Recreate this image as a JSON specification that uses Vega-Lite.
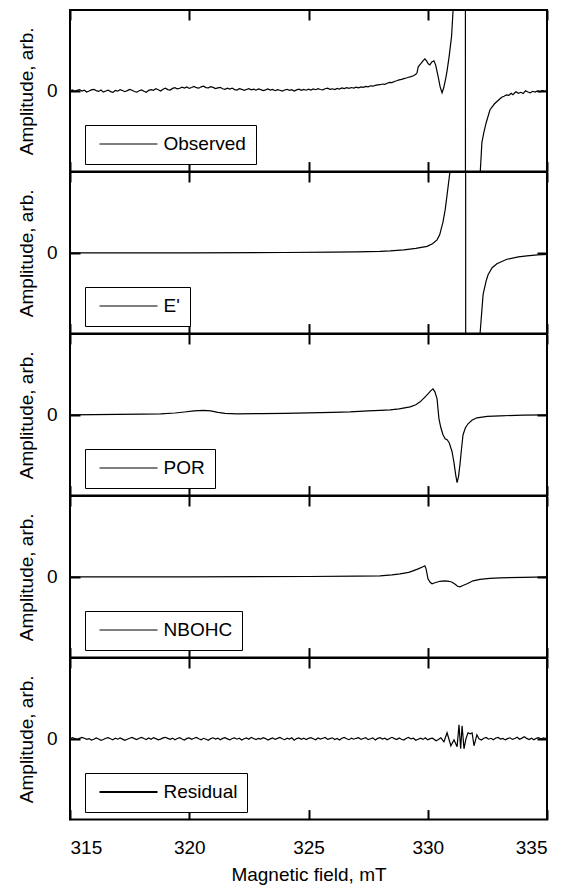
{
  "$schema": "https://vega.github.io/schema/vega-lite/v6.json",
  "padding": {"left": 16, "top": 8, "right": 15, "bottom": 5},
  "spacing": 0,
  "bounds": "flush",
  "datasets": {
    "observed": [
      {"B":315.0,"A":0},{"B":315.1,"A":0.8},{"B":315.2,"A":-0.5},{"B":315.3,"A":0.5},{"B":315.4,"A":1.2},{"B":315.5,"A":-0.3},{"B":315.6,"A":0.6},{"B":315.7,"A":-1.2},{"B":315.8,"A":-0.2},{"B":315.9,"A":0.9},
      {"B":316.0,"A":1.5},{"B":316.1,"A":0.2},{"B":316.2,"A":-0.6},{"B":316.3,"A":0.8},{"B":316.4,"A":-1.3},{"B":316.5,"A":-0.2},{"B":316.6,"A":0.7},{"B":316.7,"A":-0.8},{"B":316.8,"A":-1.6},{"B":316.9,"A":0.3},
      {"B":317.0,"A":-0.4},{"B":317.1,"A":1.1},{"B":317.2,"A":0.3},{"B":317.3,"A":-0.9},{"B":317.4,"A":0.2},{"B":317.5,"A":1.4},{"B":317.6,"A":0.6},{"B":317.7,"A":-0.7},{"B":317.8,"A":-1.4},{"B":317.9,"A":0.1},
      {"B":318.0,"A":0.9},{"B":318.1,"A":-0.5},{"B":318.2,"A":-1.5},{"B":318.3,"A":0.4},{"B":318.4,"A":1.2},{"B":318.5,"A":0.5},{"B":318.6,"A":2.2},{"B":318.7,"A":1.0},{"B":318.8,"A":-0.2},{"B":318.9,"A":1.6},
      {"B":319.0,"A":2.6},{"B":319.1,"A":1.2},{"B":319.2,"A":0.8},{"B":319.3,"A":2.4},{"B":319.4,"A":3.2},{"B":319.5,"A":1.9},{"B":319.6,"A":2.5},{"B":319.7,"A":3.6},{"B":319.8,"A":2.8},{"B":319.9,"A":3.9},
      {"B":320.0,"A":2.4},{"B":320.1,"A":3.3},{"B":320.2,"A":4.3},{"B":320.3,"A":3.1},{"B":320.4,"A":2.6},{"B":320.5,"A":4.0},{"B":320.6,"A":4.6},{"B":320.7,"A":3.2},{"B":320.8,"A":3.0},{"B":320.9,"A":4.1},
      {"B":321.0,"A":3.4},{"B":321.1,"A":2.2},{"B":321.2,"A":2.9},{"B":321.3,"A":3.5},{"B":321.4,"A":2.0},{"B":321.5,"A":1.4},{"B":321.6,"A":2.6},{"B":321.7,"A":1.8},{"B":321.8,"A":2.7},{"B":321.9,"A":1.2},
      {"B":322.0,"A":0.8},{"B":322.1,"A":2.1},{"B":322.2,"A":1.5},{"B":322.3,"A":0.4},{"B":322.4,"A":1.3},{"B":322.5,"A":2.2},{"B":322.6,"A":1.0},{"B":322.7,"A":1.7},{"B":322.8,"A":0.6},{"B":322.9,"A":1.9},
      {"B":323.0,"A":1.2},{"B":323.1,"A":0.2},{"B":323.2,"A":0.9},{"B":323.3,"A":1.8},{"B":323.4,"A":0.7},{"B":323.5,"A":1.4},{"B":323.6,"A":0.1},{"B":323.7,"A":1.2},{"B":323.8,"A":0.6},{"B":323.9,"A":-0.3},
      {"B":324.0,"A":0.8},{"B":324.1,"A":1.5},{"B":324.2,"A":0.4},{"B":324.3,"A":1.1},{"B":324.4,"A":-0.2},{"B":324.5,"A":0.9},{"B":324.6,"A":1.7},{"B":324.7,"A":0.5},{"B":324.8,"A":1.3},{"B":324.9,"A":0.6},
      {"B":325.0,"A":1.6},{"B":325.1,"A":0.7},{"B":325.2,"A":1.9},{"B":325.3,"A":1.1},{"B":325.4,"A":2.2},{"B":325.5,"A":1.3},{"B":325.6,"A":0.9},{"B":325.7,"A":2.1},{"B":325.8,"A":2.6},{"B":325.9,"A":1.5},
      {"B":326.0,"A":2.0},{"B":326.1,"A":1.2},{"B":326.2,"A":2.4},{"B":326.3,"A":1.8},{"B":326.4,"A":2.9},{"B":326.5,"A":2.2},{"B":326.6,"A":3.1},{"B":326.7,"A":2.4},{"B":326.8,"A":3.3},{"B":326.9,"A":2.8},
      {"B":327.0,"A":3.6},{"B":327.1,"A":3.0},{"B":327.2,"A":3.9},{"B":327.3,"A":3.4},{"B":327.4,"A":4.4},{"B":327.5,"A":4.0},{"B":327.6,"A":5.0},{"B":327.7,"A":4.6},{"B":327.8,"A":5.4},{"B":327.9,"A":5.9},
      {"B":328.0,"A":6.1},{"B":328.1,"A":6.8},{"B":328.2,"A":6.5},{"B":328.3,"A":7.6},{"B":328.4,"A":8.5},{"B":328.5,"A":8.2},{"B":328.6,"A":9.3},{"B":328.7,"A":10.1},{"B":328.8,"A":11.0},{"B":328.9,"A":11.4},
      {"B":329.0,"A":12.2},{"B":329.1,"A":12.8},{"B":329.2,"A":13.6},{"B":329.3,"A":14.2},{"B":329.4,"A":15.1},{"B":329.5,"A":16.5},
      {"B":329.55,"A":18},{"B":329.6,"A":24},{"B":329.7,"A":27},{"B":329.8,"A":30},{"B":329.88,"A":32},{"B":329.95,"A":30},{"B":330.02,"A":27},{"B":330.09,"A":26},{"B":330.17,"A":29},{"B":330.26,"A":30},{"B":330.33,"A":26},{"B":330.43,"A":15},{"B":330.52,"A":4},{"B":330.6,"A":-2},{"B":330.67,"A":3},{"B":330.75,"A":12},{"B":330.81,"A":20},{"B":330.9,"A":35},{"B":331.0,"A":55},{"B":331.06,"A":80},{"B":331.15,"A":130},{"B":331.3,"A":250},{"B":331.45,"A":450},{"B":331.57,"A":700},{"B":331.59,"A":-700},{"B":331.75,"A":-450},{"B":331.95,"A":-250},{"B":332.1,"A":-140},{"B":332.2,"A":-82},{"B":332.27,"A":-52},{"B":332.35,"A":-42},{"B":332.45,"A":-32},{"B":332.61,"A":-19},{"B":332.8,"A":-13},
      {"B":333.03,"A":-8},{"B":333.1,"A":-6.5},{"B":333.2,"A":-5.5},{"B":333.3,"A":-4},{"B":333.4,"A":-4.5},{"B":333.5,"A":-2.5},{"B":333.57,"A":-4},{"B":333.65,"A":-2},{"B":333.7,"A":-1},{"B":333.8,"A":-2.5},{"B":333.9,"A":-1.5},{"B":334.0,"A":-2.8},{"B":334.1,"A":0},{"B":334.2,"A":-1.2},{"B":334.3,"A":-2},{"B":334.4,"A":-0.5},{"B":334.5,"A":-1.3},{"B":334.6,"A":-0.2},{"B":334.7,"A":-1},{"B":334.8,"A":0.3},{"B":334.9,"A":-0.6},{"B":335.0,"A":0}
    ],
    "eprime": [
      {"B":315,"A":0},{"B":320,"A":0},{"B":324,"A":0.3},{"B":326,"A":0.6},{"B":327,"A":1},{"B":328,"A":1.5},{"B":328.42,"A":2},{"B":329,"A":3},{"B":329.5,"A":4.5},{"B":329.97,"A":6.5},{"B":330.2,"A":9},{"B":330.39,"A":13},{"B":330.5,"A":18},{"B":330.64,"A":31},{"B":330.73,"A":43},{"B":330.81,"A":58},{"B":330.93,"A":81},{"B":331.1,"A":140},{"B":331.3,"A":280},{"B":331.45,"A":500},{"B":331.58,"A":700},{"B":331.6,"A":-700},{"B":331.7,"A":-500},{"B":331.85,"A":-300},{"B":332.0,"A":-170},{"B":332.1,"A":-115},{"B":332.19,"A":-82},{"B":332.32,"A":-42},{"B":332.45,"A":-28},{"B":332.53,"A":-22},{"B":332.7,"A":-15},{"B":332.9,"A":-11},{"B":333.32,"A":-6.5},{"B":333.8,"A":-4},{"B":334.16,"A":-3},{"B":334.6,"A":-2},{"B":335,"A":-1.5}
    ],
    "por": [
      {"B":315,"A":0},{"B":316,"A":0.2},{"B":317,"A":0.4},{"B":318,"A":0.6},{"B":318.8,"A":1},{"B":319.4,"A":1.8},{"B":319.8,"A":2.8},{"B":320.2,"A":4},{"B":320.6,"A":4.5},{"B":320.9,"A":4},{"B":321.2,"A":2.5},{"B":321.5,"A":1.5},{"B":322,"A":1},{"B":323,"A":1.2},{"B":324,"A":1.5},{"B":325,"A":2},{"B":326,"A":2.5},{"B":326.74,"A":3},{"B":327.5,"A":4},{"B":328,"A":4.5},{"B":328.42,"A":5},{"B":328.8,"A":6},{"B":329.26,"A":8},{"B":329.5,"A":10},{"B":329.68,"A":13},{"B":329.85,"A":17},{"B":330.01,"A":21},{"B":330.12,"A":24},{"B":330.22,"A":26},{"B":330.3,"A":23},{"B":330.39,"A":16},{"B":330.47,"A":-4},{"B":330.55,"A":-13},{"B":330.64,"A":-20},{"B":330.73,"A":-24},{"B":330.81,"A":-25},{"B":330.9,"A":-28},{"B":331.02,"A":-37},{"B":331.1,"A":-48},{"B":331.17,"A":-60},{"B":331.23,"A":-68},{"B":331.29,"A":-62},{"B":331.35,"A":-50},{"B":331.42,"A":-33},{"B":331.48,"A":-20},{"B":331.58,"A":-13},{"B":331.69,"A":-9},{"B":331.85,"A":-5.5},{"B":332.06,"A":-3},{"B":332.5,"A":-1.5},{"B":333.03,"A":-1},{"B":334,"A":-0.3},{"B":335,"A":0}
    ],
    "nbohc": [
      {"B":315,"A":0},{"B":320,"A":0},{"B":325,"A":0.3},{"B":327,"A":0.7},{"B":328,"A":1},{"B":328.5,"A":2},{"B":328.84,"A":3},{"B":329.2,"A":4.5},{"B":329.38,"A":6},{"B":329.6,"A":8},{"B":329.8,"A":10},{"B":329.88,"A":11},{"B":329.93,"A":8},{"B":329.97,"A":3},{"B":330.01,"A":-2},{"B":330.1,"A":-5.5},{"B":330.18,"A":-7},{"B":330.3,"A":-6},{"B":330.51,"A":-4.5},{"B":330.7,"A":-4},{"B":330.9,"A":-4.5},{"B":331.02,"A":-5.5},{"B":331.15,"A":-7.5},{"B":331.25,"A":-9.5},{"B":331.35,"A":-10},{"B":331.45,"A":-9},{"B":331.65,"A":-7},{"B":331.9,"A":-4},{"B":332.19,"A":-2.5},{"B":332.6,"A":-1.5},{"B":333.03,"A":-1},{"B":334,"A":-0.5},{"B":335,"A":0}
    ],
    "residual": [
      {"B":315.0,"A":0},{"B":315.1,"A":1.1},{"B":315.2,"A":0.3},{"B":315.3,"A":-0.8},{"B":315.4,"A":0.4},{"B":315.5,"A":1.4},{"B":315.6,"A":0.5},{"B":315.7,"A":-0.6},{"B":315.8,"A":0.2},{"B":315.9,"A":-1.3},
      {"B":316.0,"A":-0.5},{"B":316.1,"A":0.8},{"B":316.2,"A":-0.2},{"B":316.3,"A":-1.5},{"B":316.4,"A":-0.7},{"B":316.5,"A":0.6},{"B":316.6,"A":1.2},{"B":316.7,"A":0.1},{"B":316.8,"A":-0.9},{"B":316.9,"A":0.7},
      {"B":317.0,"A":-0.4},{"B":317.1,"A":0.9},{"B":317.2,"A":-0.3},{"B":317.3,"A":-1.6},{"B":317.4,"A":-0.5},{"B":317.5,"A":0.6},{"B":317.6,"A":1.3},{"B":317.7,"A":0.2},{"B":317.8,"A":-0.8},{"B":317.9,"A":0.5},
      {"B":318.0,"A":1.4},{"B":318.1,"A":0.3},{"B":318.2,"A":-0.7},{"B":318.3,"A":0.8},{"B":318.4,"A":-0.4},{"B":318.5,"A":1.2},{"B":318.6,"A":0.2},{"B":318.7,"A":-1.1},{"B":318.8,"A":-0.3},{"B":318.9,"A":0.9},
      {"B":319.0,"A":1.5},{"B":319.1,"A":0.4},{"B":319.2,"A":-0.6},{"B":319.3,"A":0.7},{"B":319.4,"A":-0.9},{"B":319.5,"A":0.3},{"B":319.6,"A":1.1},{"B":319.7,"A":-0.2},{"B":319.8,"A":-1.2},{"B":319.9,"A":0.4},
      {"B":320.0,"A":0.9},{"B":320.1,"A":-0.5},{"B":320.2,"A":0.6},{"B":320.3,"A":1.3},{"B":320.4,"A":0.1},{"B":320.5,"A":-1.0},{"B":320.6,"A":0.5},{"B":320.7,"A":-0.4},{"B":320.8,"A":-1.5},{"B":320.9,"A":0.2},
      {"B":321.0,"A":1.0},{"B":321.1,"A":-0.3},{"B":321.2,"A":0.7},{"B":321.3,"A":-0.9},{"B":321.4,"A":0.4},{"B":321.5,"A":1.2},{"B":321.6,"A":-0.1},{"B":321.7,"A":-1.1},{"B":321.8,"A":0.3},{"B":321.9,"A":1.0},
      {"B":322.0,"A":-0.4},{"B":322.1,"A":0.6},{"B":322.2,"A":-1.2},{"B":322.3,"A":0.1},{"B":322.4,"A":0.9},{"B":322.5,"A":-0.5},{"B":322.6,"A":1.4},{"B":322.7,"A":0.3},{"B":322.8,"A":-0.8},{"B":322.9,"A":0.5},
      {"B":323.0,"A":-0.2},{"B":323.1,"A":1.1},{"B":323.2,"A":0.2},{"B":323.3,"A":-1.3},{"B":323.4,"A":-0.1},{"B":323.5,"A":0.8},{"B":323.6,"A":-0.6},{"B":323.7,"A":0.4},{"B":323.8,"A":1.3},{"B":323.9,"A":0.0},
      {"B":324.0,"A":-0.9},{"B":324.1,"A":0.6},{"B":324.2,"A":-0.3},{"B":324.3,"A":1.0},{"B":324.4,"A":-1.4},{"B":324.5,"A":0.2},{"B":324.6,"A":0.9},{"B":324.7,"A":-0.5},{"B":324.8,"A":0.7},{"B":324.9,"A":-0.8},
      {"B":325.0,"A":0.4},{"B":325.1,"A":1.2},{"B":325.2,"A":0.1},{"B":325.3,"A":-1.0},{"B":325.4,"A":0.8},{"B":325.5,"A":-0.3},{"B":325.6,"A":0.5},{"B":325.7,"A":1.3},{"B":325.8,"A":-0.6},{"B":325.9,"A":0.2},
      {"B":326.0,"A":1.0},{"B":326.1,"A":-0.7},{"B":326.2,"A":0.3},{"B":326.3,"A":-1.2},{"B":326.4,"A":0.6},{"B":326.5,"A":1.4},{"B":326.6,"A":0.0},{"B":326.7,"A":-0.9},{"B":326.8,"A":0.7},{"B":326.9,"A":-0.4},
      {"B":327.0,"A":0.5},{"B":327.1,"A":1.1},{"B":327.2,"A":-0.6},{"B":327.3,"A":0.3},{"B":327.4,"A":1.2},{"B":327.5,"A":-0.8},{"B":327.6,"A":0.1},{"B":327.7,"A":0.9},{"B":327.8,"A":-1.3},{"B":327.9,"A":0.4},
      {"B":328.0,"A":1.1},{"B":328.1,"A":-0.2},{"B":328.2,"A":0.6},{"B":328.3,"A":-1.0},{"B":328.4,"A":0.3},{"B":328.5,"A":1.5},{"B":328.6,"A":0.2},{"B":328.7,"A":-0.7},{"B":328.8,"A":0.8},{"B":328.9,"A":-0.4},
      {"B":329.0,"A":-1.2},{"B":329.1,"A":0.5},{"B":329.2,"A":1.3},{"B":329.3,"A":-0.1},{"B":329.4,"A":0.6},{"B":329.5,"A":-1.5},{"B":329.6,"A":-0.4},{"B":329.7,"A":0.7},{"B":329.8,"A":-0.6},{"B":329.9,"A":1.0},
      {"B":330.0,"A":-1.1},{"B":330.1,"A":0.2},{"B":330.2,"A":0.6},{"B":330.35,"A":-2},{"B":330.43,"A":-1},{"B":330.55,"A":1},{"B":330.68,"A":-3},{"B":330.81,"A":6},{"B":330.97,"A":-7},{"B":331.1,"A":-1},{"B":331.23,"A":-8},{"B":331.31,"A":14},{"B":331.38,"A":-10},{"B":331.44,"A":13},{"B":331.52,"A":-10},{"B":331.6,"A":0},{"B":331.69,"A":6},{"B":331.78,"A":5},{"B":331.86,"A":6},{"B":331.94,"A":-7},{"B":332.06,"A":4},
      {"B":332.15,"A":0},{"B":332.25,"A":-1.2},{"B":332.35,"A":0.6},{"B":332.45,"A":1.3},{"B":332.55,"A":-0.4},{"B":332.65,"A":0.5},{"B":332.75,"A":-1},{"B":332.85,"A":0.8},{"B":332.95,"A":1.4},{"B":333.05,"A":-0.3},{"B":333.15,"A":0.4},{"B":333.25,"A":-1.1},{"B":333.35,"A":0.2},{"B":333.45,"A":1.0},{"B":333.55,"A":-0.6},{"B":333.65,"A":0.3},{"B":333.75,"A":1.6},{"B":333.85,"A":-0.5},{"B":333.95,"A":0.7},{"B":334.05,"A":2.0},{"B":334.15,"A":0.4},{"B":334.25,"A":-0.8},{"B":334.35,"A":0.6},{"B":334.45,"A":-1.0},{"B":334.55,"A":0.5},{"B":334.65,"A":1.2},{"B":334.75,"A":-0.2},{"B":334.85,"A":0.9},{"B":334.95,"A":0.3},{"B":335.0,"A":1}
    ]
  },
  "vconcat": [
    {
      "width": 477, "height": 161.6,
      "data": {"name": "observed"},
      "layer": [
        {"mark": {"type": "line", "clip": true, "strokeWidth": 1.2},
         "encoding": {
           "x": {"field": "B", "type": "quantitative", "scale": {"domain": [315, 335], "nice": false, "zero": false}, "axis": {"orient": "bottom", "values": [315, 320, 325, 330, 335], "labels": false, "title": null}},
           "y": {"field": "A", "type": "quantitative", "scale": {"domain": [-81, 81], "nice": false}, "axis": {"orient": "left", "values": [0], "title": "Amplitude, arb."}},
           "stroke": {"datum": "Observed", "type": "nominal", "scale": {"range": ["black"]},
             "legend": {"orient": "none", "legendX": 15, "legendY": 115, "title": null, "symbolType": "M-58,0L58,0", "symbolSize": 1, "symbolStrokeWidth": 1, "symbolOffset": 24.5, "labelOffset": 25.5, "padding": 9.5, "strokeColor": "black", "fillColor": "white", "labelFontSize": 19, "labelColor": "black"}}
         }},
        {"mark": {"type": "line", "clip": true, "strokeOpacity": 0},
         "encoding": {
           "x": {"field": "B", "type": "quantitative", "scale": {"domain": [315, 335], "nice": false, "zero": false}, "axis": {"orient": "top", "values": [315, 320, 325, 330, 335], "labels": false, "title": null}},
           "y": {"field": "A", "type": "quantitative", "scale": {"domain": [-81, 81], "nice": false}, "axis": {"orient": "right", "values": [0], "labels": false, "title": null}}
         }}
      ],
      "resolve": {"axis": {"x": "independent", "y": "independent"}}
    },
    {
      "width": 477, "height": 161.6,
      "data": {"name": "eprime"},
      "layer": [
        {"mark": {"type": "line", "clip": true, "strokeWidth": 1.2},
         "encoding": {
           "x": {"field": "B", "type": "quantitative", "scale": {"domain": [315, 335], "nice": false, "zero": false}, "axis": {"orient": "bottom", "values": [315, 320, 325, 330, 335], "labels": false, "title": null}},
           "y": {"field": "A", "type": "quantitative", "scale": {"domain": [-81, 81], "nice": false}, "axis": {"orient": "left", "values": [0], "title": "Amplitude, arb."}},
           "stroke": {"datum": "E'", "type": "nominal", "scale": {"range": ["black"]},
             "legend": {"orient": "none", "legendX": 15, "legendY": 115, "title": null, "symbolType": "M-58,0L58,0", "symbolSize": 1, "symbolStrokeWidth": 1, "symbolOffset": 24.5, "labelOffset": 25.5, "padding": 9.5, "strokeColor": "black", "fillColor": "white", "labelFontSize": 19, "labelColor": "black"}}
         }},
        {"mark": {"type": "line", "clip": true, "strokeOpacity": 0},
         "encoding": {
           "x": {"field": "B", "type": "quantitative", "scale": {"domain": [315, 335], "nice": false, "zero": false}, "axis": {"orient": "top", "values": [315, 320, 325, 330, 335], "labels": false, "title": null}},
           "y": {"field": "A", "type": "quantitative", "scale": {"domain": [-81, 81], "nice": false}, "axis": {"orient": "right", "values": [0], "labels": false, "title": null}}
         }}
      ],
      "resolve": {"axis": {"x": "independent", "y": "independent"}}
    },
    {
      "width": 477, "height": 161.6,
      "data": {"name": "por"},
      "layer": [
        {"mark": {"type": "line", "clip": true, "strokeWidth": 1.2},
         "encoding": {
           "x": {"field": "B", "type": "quantitative", "scale": {"domain": [315, 335], "nice": false, "zero": false}, "axis": {"orient": "bottom", "values": [315, 320, 325, 330, 335], "labels": false, "title": null}},
           "y": {"field": "A", "type": "quantitative", "scale": {"domain": [-81, 81], "nice": false}, "axis": {"orient": "left", "values": [0], "title": "Amplitude, arb."}},
           "stroke": {"datum": "POR", "type": "nominal", "scale": {"range": ["black"]},
             "legend": {"orient": "none", "legendX": 15, "legendY": 115, "title": null, "symbolType": "M-58,0L58,0", "symbolSize": 1, "symbolStrokeWidth": 1, "symbolOffset": 24.5, "labelOffset": 25.5, "padding": 9.5, "strokeColor": "black", "fillColor": "white", "labelFontSize": 19, "labelColor": "black"}}
         }},
        {"mark": {"type": "line", "clip": true, "strokeOpacity": 0},
         "encoding": {
           "x": {"field": "B", "type": "quantitative", "scale": {"domain": [315, 335], "nice": false, "zero": false}, "axis": {"orient": "top", "values": [315, 320, 325, 330, 335], "labels": false, "title": null}},
           "y": {"field": "A", "type": "quantitative", "scale": {"domain": [-81, 81], "nice": false}, "axis": {"orient": "right", "values": [0], "labels": false, "title": null}}
         }}
      ],
      "resolve": {"axis": {"x": "independent", "y": "independent"}}
    },
    {
      "width": 477, "height": 161.6,
      "data": {"name": "nbohc"},
      "layer": [
        {"mark": {"type": "line", "clip": true, "strokeWidth": 1.2},
         "encoding": {
           "x": {"field": "B", "type": "quantitative", "scale": {"domain": [315, 335], "nice": false, "zero": false}, "axis": {"orient": "bottom", "values": [315, 320, 325, 330, 335], "labels": false, "title": null}},
           "y": {"field": "A", "type": "quantitative", "scale": {"domain": [-81, 81], "nice": false}, "axis": {"orient": "left", "values": [0], "title": "Amplitude, arb."}},
           "stroke": {"datum": "NBOHC", "type": "nominal", "scale": {"range": ["black"]},
             "legend": {"orient": "none", "legendX": 15, "legendY": 115, "title": null, "symbolType": "M-58,0L58,0", "symbolSize": 1, "symbolStrokeWidth": 1, "symbolOffset": 24.5, "labelOffset": 25.5, "padding": 9.5, "strokeColor": "black", "fillColor": "white", "labelFontSize": 19, "labelColor": "black"}}
         }},
        {"mark": {"type": "line", "clip": true, "strokeOpacity": 0},
         "encoding": {
           "x": {"field": "B", "type": "quantitative", "scale": {"domain": [315, 335], "nice": false, "zero": false}, "axis": {"orient": "top", "values": [315, 320, 325, 330, 335], "labels": false, "title": null}},
           "y": {"field": "A", "type": "quantitative", "scale": {"domain": [-81, 81], "nice": false}, "axis": {"orient": "right", "values": [0], "labels": false, "title": null}}
         }}
      ],
      "resolve": {"axis": {"x": "independent", "y": "independent"}}
    },
    {
      "width": 477, "height": 161.6,
      "data": {"name": "residual"},
      "layer": [
        {"mark": {"type": "line", "clip": true, "strokeWidth": 1.2},
         "encoding": {
           "x": {"field": "B", "type": "quantitative", "scale": {"domain": [315, 335], "nice": false, "zero": false}, "axis": {"orient": "bottom", "values": [315, 320, 325, 330, 335], "labels": true, "title": "Magnetic field, mT", "labelPadding": 29, "titlePadding": 8}},
           "y": {"field": "A", "type": "quantitative", "scale": {"domain": [-81, 81], "nice": false}, "axis": {"orient": "left", "values": [0], "title": "Amplitude, arb."}},
           "stroke": {"datum": "Residual", "type": "nominal", "scale": {"range": ["black"]},
             "legend": {"orient": "none", "legendX": 15, "legendY": 115, "title": null, "symbolType": "M-58,0L58,0", "symbolSize": 1, "symbolStrokeWidth": 2, "symbolOffset": 24.5, "labelOffset": 25.5, "padding": 9.5, "strokeColor": "black", "fillColor": "white", "labelFontSize": 19, "labelColor": "black"}}
         }},
        {"mark": {"type": "line", "clip": true, "strokeOpacity": 0},
         "encoding": {
           "x": {"field": "B", "type": "quantitative", "scale": {"domain": [315, 335], "nice": false, "zero": false}, "axis": {"orient": "top", "values": [315, 320, 325, 330, 335], "labels": false, "title": null}},
           "y": {"field": "A", "type": "quantitative", "scale": {"domain": [-81, 81], "nice": false}, "axis": {"orient": "right", "values": [0], "labels": false, "title": null}}
         }}
      ],
      "resolve": {"axis": {"x": "independent", "y": "independent"}}
    }
  ],
  "resolve": {"scale": {"stroke": "independent"}, "legend": {"stroke": "independent"}},
  "config": {
    "font": "Liberation Sans",
    "view": {"stroke": "black", "strokeWidth": 2},
    "axis": {"grid": false, "domain": false, "ticks": true, "tickColor": "black", "tickWidth": 2, "tickSize": -10, "labelColor": "black", "labelFontSize": 19, "labelPadding": 23, "titleColor": "black", "titleFontSize": 19, "titleFontWeight": "normal", "titlePadding": 10},
    "legend": {"labelFont": "Liberation Sans"}
  }
}
